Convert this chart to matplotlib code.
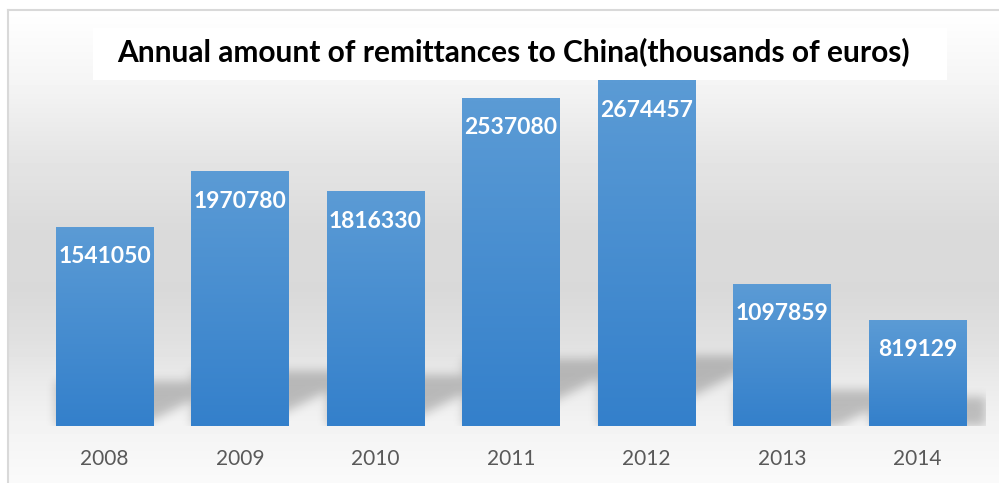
import numpy as np
import matplotlib
matplotlib.use("Agg")
import matplotlib.pyplot as plt
from matplotlib.patches import Rectangle

years = ["2008", "2009", "2010", "2011", "2012", "2013", "2014"]
remittances = [1541050, 1970780, 1816330, 2537080, 2674457, 1097859, 819129]
title = "Annual amount of remittances to China(thousands of euros)"

W, H = 999, 483
YMAX = 3000000
fig = plt.figure(figsize=(W / 100, H / 100), dpi=100)
fig.patch.set_facecolor("white")

# chart area: grey vertical gradient with a thin border
bg = fig.add_axes([0, 0, 1, 1], zorder=-10)
bg.set_axis_off()
rows = np.arange(H)
stops_y = [9, 80, 150, 230, 290, 340, 380, 425, 483]
stops_v = [255, 245, 230, 218, 217, 224, 234, 243, 250]
grey = np.interp(rows, stops_y, stops_v) / 255
img = np.repeat(grey[:, None], W, axis=1)
img[:9, :] = 1
img[:, :7] = 1
bg.imshow(img, cmap="gray", vmin=0, vmax=1, extent=[0, W, H, 0],
          aspect="auto", interpolation="bilinear")
bg.plot([7.5, 7.5], [H, 9.5], color="#d9d9d9", lw=1.5)
bg.plot([7.5, W], [9.5, 9.5], color="#d9d9d9", lw=1.5)
bg.set_xlim(0, W)
bg.set_ylim(H, 0)

ax = fig.add_axes([36.75 / W, (H - 425.7) / H, 948.5 / W, 387.5 / H])
ax.patch.set_alpha(0)
x = np.arange(len(years))
bars = ax.bar(x, remittances, width=0.716, color="#4a8fd2", zorder=2)

# per-bar gradient, lighter at the top
top_c = np.array([91, 155, 213]) / 255
bot_c = np.array([52, 128, 203]) / 255
t = np.linspace(0, 1, 64)[:, None, None]
grad = top_c * (1 - t) + bot_c * t
for b in bars:
    im = ax.imshow(grad, extent=[b.get_x(), b.get_x() + b.get_width(), 0, b.get_height()],
                   aspect="auto", zorder=2.5, interpolation="bilinear")
    im.set_clip_path(b)

ax.set_xlim(-0.5, len(years) - 0.5)
ax.set_ylim(0, YMAX)

# soft floor shadow cast to the right of each bar
pos = ax.get_position()
axw, axh = pos.width * W, pos.height * H
ppx = axw / len(years)
ppy = axh / YMAX
nx, ny = int(axw), int(axh)
X, R = np.meshgrid(np.arange(nx) + 0.5, np.arange(ny) + 0.5)
Hh = axh - R
mask = np.zeros((ny, nx))
for b in bars:
    xl = (b.get_x() + 0.5) * ppx
    xr = xl + b.get_width() * ppx
    h = b.get_height() * ppy
    top = 12 + 0.17 * h
    c = -27 + 0.171 * h
    inside = (X >= xl) & (Hh <= top) & (Hh >= c + 0.5 * (X - xr))
    mask[inside] = 1

sig = 5.0
k = np.exp(-0.5 * (np.arange(-15, 16) / sig) ** 2)
k /= k.sum()
blur = np.apply_along_axis(lambda r: np.convolve(r, k, mode="same"), 1, mask)
blur = np.apply_along_axis(lambda r: np.convolve(r, k, mode="same"), 0, blur)
shadow = np.zeros((ny, nx, 4))
shadow[..., 3] = 0.22 * blur
ax.imshow(shadow, extent=[-0.5, len(years) - 0.5, 0, YMAX], aspect="auto", zorder=1)
ax.set_xlim(-0.5, len(years) - 0.5)
ax.set_ylim(0, YMAX)

for b, v in zip(bars, remittances):
    ax.annotate(f"{v}", xy=(b.get_x() + b.get_width() / 2, v), xytext=(0, -21.6),
                textcoords="offset points", ha="center", va="center", color="white",
                fontsize=16.5, fontweight="bold", family="Lato", zorder=4)

ax.set_xticks(x, years)
ax.tick_params(axis="x", length=0, pad=17, labelsize=15, labelcolor="#595959")
for lab in ax.get_xticklabels():
    lab.set_family("Lato")
ax.set_yticks([])
for s in ax.spines.values():
    s.set_visible(False)

# title on a white box
fig.add_artist(Rectangle((93 / W, (H - 80) / H), 854 / W, 52 / H, transform=fig.transFigure,
                         facecolor="white", edgecolor="none", zorder=5))
fig.text(513.5 / W, 1 - 61 / H, title, ha="center", va="baseline", fontsize=21.5,
         fontweight="bold", family="Lato", zorder=6)

fig.savefig("out.png", dpi=100)
